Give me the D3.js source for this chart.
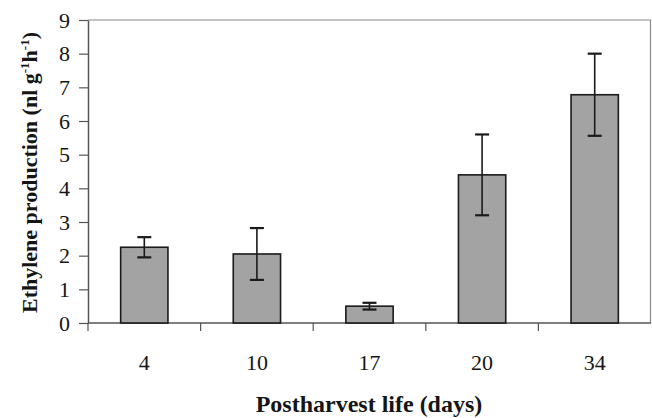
<!DOCTYPE html>
<html>
<head>
<meta charset="utf-8">
<script src="https://cdn.jsdelivr.net/npm/d3@7"></script>
<style>
  html, body { margin: 0; padding: 0; background: #fff; }
  text { font-family: "Liberation Serif", "Times New Roman", serif; fill: #151515; }
</style>
</head>
<body>
<div id="chart"></div>
<script>
const days = ["4", "10", "17", "20", "34"];
const ethylene = [2.25, 2.05, 0.5, 4.4, 6.78];
const errors = [0.3, 0.77, 0.1, 1.2, 1.22];
const yTicks = [0, 1, 2, 3, 4, 5, 6, 7, 8, 9];

const W = 652, H = 418;
const margin = { top: 20, right: 1, bottom: 95, left: 88 };

const svg = d3.select("#chart").append("svg")
  .attr("width", W).attr("height", H);

const x = d3.scaleBand()
  .domain(days)
  .range([margin.left, W - margin.right])
  .paddingInner(0.58)
  .paddingOuter(0.29);

const y = d3.scaleLinear()
  .domain([0, 9])
  .range([H - margin.bottom, margin.top]);

// plot area frame (top + right)
svg.append("path")
  .attr("d", `M${margin.left},${y(9)}H${W - margin.right - 0.5}V${y(0)}`)
  .attr("fill", "none")
  .attr("stroke", "#8a8a8a")
  .attr("stroke-width", 1.2);

// y axis
const yAxis = svg.append("g")
  .attr("transform", `translate(${margin.left},0)`)
  .call(d3.axisLeft(y).tickValues(yTicks).tickSize(9).tickSizeOuter(0).tickPadding(9));
yAxis.select(".domain").attr("stroke", "#555").attr("stroke-width", 1.5);
yAxis.selectAll(".tick line").attr("stroke", "#555").attr("stroke-width", 1.2);
yAxis.selectAll("text").style("font-size", "22px").attr("fill", "#151515");

// x axis line + ticks at category boundaries
svg.append("line")
  .attr("x1", margin.left).attr("x2", W - margin.right)
  .attr("y1", y(0)).attr("y2", y(0))
  .attr("stroke", "#555").attr("stroke-width", 1.5);

const bounds = d3.range(days.length).map((i) => x.range()[0] + i * x.step());
svg.append("g").selectAll("line")
  .data(bounds)
  .join("line")
  .attr("x1", (d) => d).attr("x2", (d) => d)
  .attr("y1", y(0)).attr("y2", y(0) + 8)
  .attr("stroke", "#555").attr("stroke-width", 1.2);

svg.append("g").selectAll("text")
  .data(days)
  .join("text")
  .attr("x", (d) => x(d) + x.bandwidth() / 2)
  .attr("y", y(0) + 47)
  .attr("text-anchor", "middle")
  .style("font-size", "22px")
  .text((d) => d);

// bars
svg.append("g").selectAll("rect")
  .data(days)
  .join("rect")
  .attr("x", (d) => x(d))
  .attr("y", (d, i) => y(ethylene[i]))
  .attr("width", x.bandwidth())
  .attr("height", (d, i) => y(0) - y(ethylene[i]))
  .attr("fill", "#a3a3a3")
  .attr("stroke", "#1a1a1a")
  .attr("stroke-width", 1.6);

// error bars
const eb = svg.append("g").attr("stroke", "#1a1a1a").attr("stroke-width", 1.6);
days.forEach((d, i) => {
  const cx = x(d) + x.bandwidth() / 2;
  const hi = y(ethylene[i] + errors[i]);
  const lo = y(ethylene[i] - errors[i]);
  eb.append("line").attr("x1", cx).attr("x2", cx).attr("y1", hi).attr("y2", lo);
  eb.append("line").attr("x1", cx - 7).attr("x2", cx + 7).attr("y1", hi).attr("y2", hi).attr("stroke-width", 2.2);
  eb.append("line").attr("x1", cx - 7).attr("x2", cx + 7).attr("y1", lo).attr("y2", lo).attr("stroke-width", 2.2);
});

// axis titles
svg.append("text")
  .attr("x", (margin.left + W) / 2 - 1)
  .attr("y", 412)
  .attr("text-anchor", "middle")
  .style("font-size", "24px")
  .style("font-weight", "bold")
  .text("Postharvest life (days)");

const yl = svg.append("text")
  .attr("transform", `translate(37,${(y(0) + y(9)) / 2 + 1}) rotate(-90)`)
  .attr("text-anchor", "middle")
  .style("font-size", "22px")
  .style("font-weight", "bold");
yl.append("tspan").text("Ethylene production (nl g");
yl.append("tspan").attr("dy", -8).style("font-size", "13px").text("-1");
yl.append("tspan").attr("dy", 8).text("h");
yl.append("tspan").attr("dy", -8).style("font-size", "13px").text("-1");
yl.append("tspan").attr("dy", 8).text(")");
</script>
</body>
</html>
